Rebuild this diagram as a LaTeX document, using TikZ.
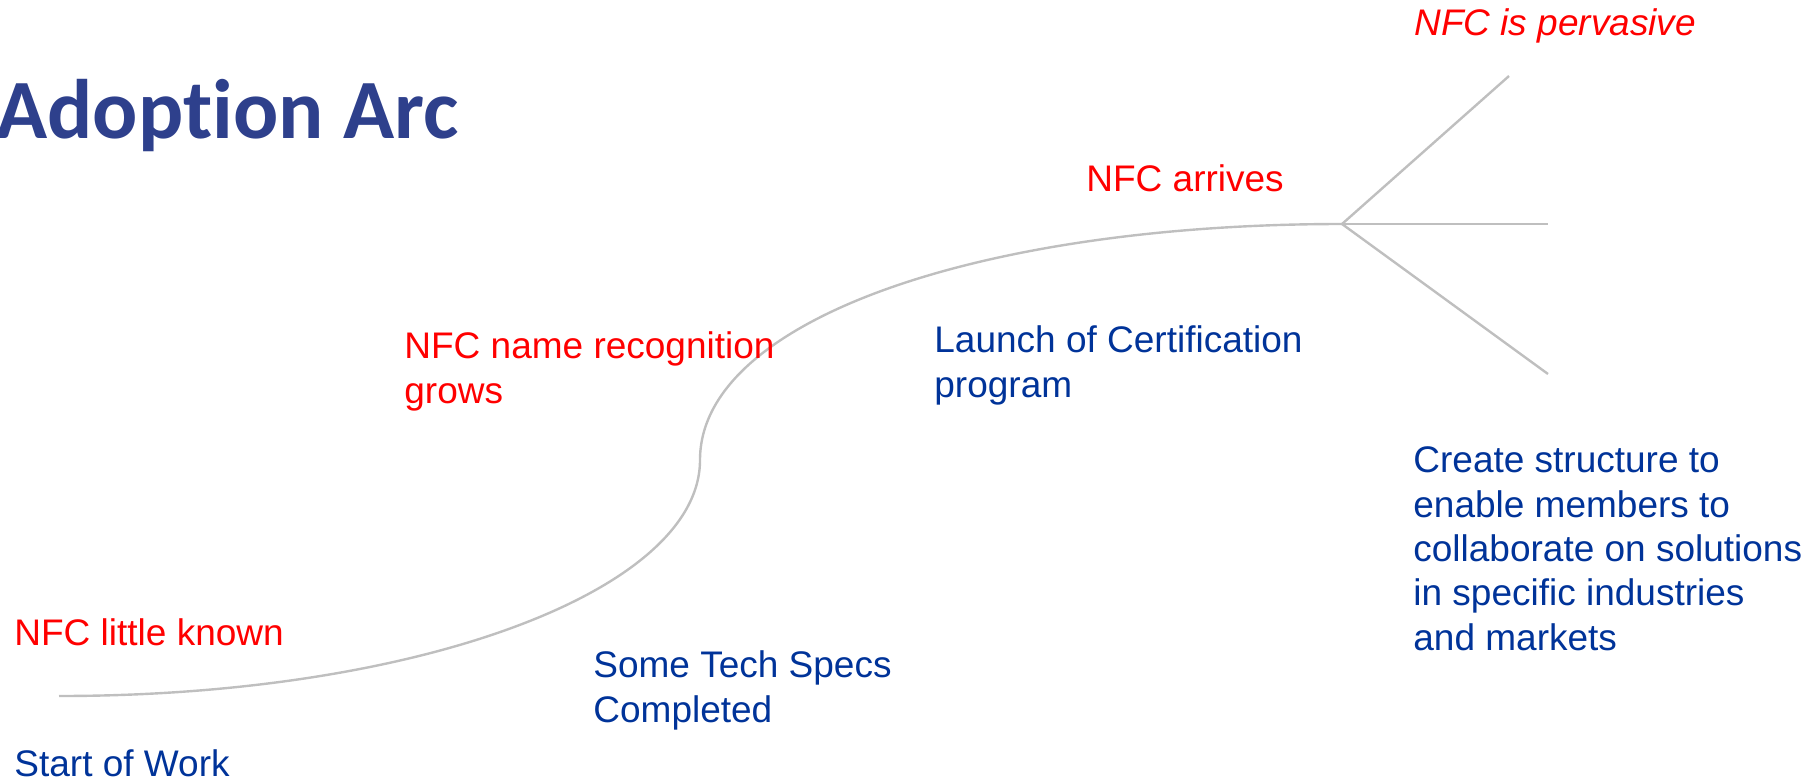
\documentclass[tikz,border=0pt]{standalone}
\usepackage{fontspec}
\setmainfont{Liberation Sans}
\newfontfamily\titlefont[Ligatures=NoCommon]{Carlito}
\usetikzlibrary{positioning}

\definecolor{arcgray}{RGB}{191,191,191}
\definecolor{titleblue}{RGB}{46,64,140}
\definecolor{stepblue}{RGB}{0,51,153}
\definecolor{stepred}{RGB}{255,0,0}

\begin{document}
\begin{tikzpicture}[x=0.5pt,y=-0.5pt,
    txt/.style={inner sep=0pt,anchor=base west,align=left,
      font=\fontsize{18.5}{22.15}\selectfont},
    red/.style={txt,text=stepred},
    blue/.style={txt,text=stepblue},
    arc/.style={draw=arcgray,line width=1.2pt}]
  \useasboundingbox (0,0) rectangle (1814,782);

  % --- Title ---
  \node (title) [inner sep=0pt,anchor=base west,text=titleblue,
    font=\titlefont\bfseries\fontsize{42.2}{50}\selectfont] at (-4,138) {Adoption Arc};

  % --- Arc and branches ---
  \coordinate (start) at (59,696);
  \coordinate (mid) at (700,460);
  \coordinate (jn) at (1342,224);
  \coordinate (up) at (1509,76);
  \coordinate (side) at (1548,224);
  \coordinate (down) at (1548,374);

  \draw[arc] (start) .. controls (420,696) and (700,590) .. (mid)
                     .. controls (700,320) and (980,224) .. (jn);
  \draw[arc] (jn) -- (up);
  \draw[arc] (jn) -- (side);
  \draw[arc] (jn) -- (down);

  % --- Red labels (above the arc), placed at their last baseline ---
  \node (known) [red] at (14,645) {NFC little known};
  \node (grows) [red] at (404,403) {NFC name recognition\\grows};
  \node (arrives) [red] at (1086,191) {NFC arrives};
  \node (pervasive) [red,font=\itshape\fontsize{18.5}{22.15}\selectfont] at (1414,35) {NFC is pervasive};

  % --- Blue labels (below the arc) ---
  \node (work) [blue] at (14,776) {Start of Work};
  \node (specs) [blue] at (593,722) {Some Tech Specs\\Completed};
  \node (cert) [blue] at (934,397) {Launch of Certification\\program};
  \node (struct) [blue] at (1413,650) {Create structure to\\enable members to\\collaborate on solutions\\in specific industries\\and markets};
\end{tikzpicture}
\end{document}
